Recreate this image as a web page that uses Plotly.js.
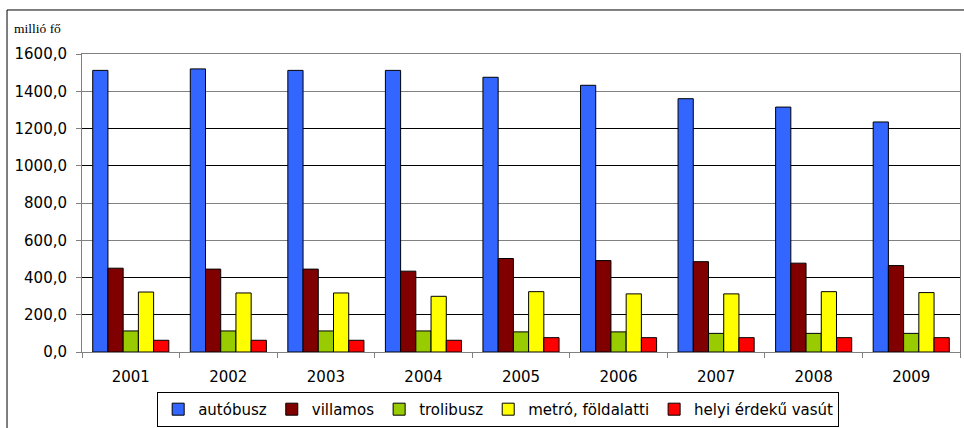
<!DOCTYPE html>
<html>
<head>
<meta charset="utf-8">
<script src="https://cdn.plot.ly/plotly-3.0.1.min.js"></script>
<style>
  html, body { margin: 0; padding: 0; background: #fff; }
  #chart { width: 964px; height: 428px; }
</style>
</head>
<body>
<div id="chart"></div>
<script>
// Helyi közforgalmú közlekedés utasai, millió fő
const years = ['2001', '2002', '2003', '2004', '2005', '2006', '2007', '2008', '2009'];

const autobusz  = [1512, 1520, 1512, 1512, 1475, 1432, 1360, 1315, 1235];
const villamos  = [450, 445, 445, 434, 502, 491, 485, 477, 464];
const trolibusz = [113, 113, 113, 113, 108, 108, 100, 100, 100];
const metro     = [322, 317, 317, 299, 324, 312, 312, 324, 319];
const hev       = [63, 63, 63, 63, 77, 77, 77, 77, 77];

const seriesNames  = ['autóbusz', 'villamos', 'trolibusz', 'metró, földalatti', 'helyi érdekű vasút'];
const seriesValues = [autobusz, villamos, trolibusz, metro, hev];
const seriesColors = ['#3366FF', '#800000', '#99CC00', '#FFFF00', '#FF0000'];

const yTicks      = [0, 200, 400, 600, 800, 1000, 1200, 1400, 1600];
const yTicksLight = [600, 800, 1400, 1600];

const FONT = 'DejaVu Sans, Verdana, sans-serif';

const traces = seriesNames.map((name, i) => ({
  type: 'bar',
  name: name,
  x: years,
  y: seriesValues[i],
  marker: { color: seriesColors[i], line: { color: '#000', width: 1 } },
  hoverinfo: 'x+y+name'
}));

// invisible companion trace that carries the lighter grid lines
traces.push({
  type: 'scatter', x: [years[0]], y: [0], yaxis: 'y2',
  mode: 'markers', marker: { opacity: 0 }, showlegend: false, hoverinfo: 'skip'
});

const layout = {
  width: 964,
  height: 428,
  margin: { l: 82, r: 4, t: 54, b: 76, autoexpand: false },
  paper_bgcolor: '#fff',
  plot_bgcolor: '#fff',
  font: { family: FONT, size: 15, color: '#000' },
  separators: ', ',
  barmode: 'group',
  bargap: 0.22,
  bargroupgap: 0,
  showlegend: true,
  xaxis: {
    type: 'category',
    showgrid: false,
    showline: true,
    linecolor: '#808080',
    linewidth: 1,
    mirror: true,
    ticks: 'outside',
    tickson: 'boundaries',
    ticklen: 5,
    tickcolor: '#808080',
    ticklabelstandoff: 11,
    tickfont: { family: FONT, size: 15, color: '#000' },
    automargin: false,
    fixedrange: true
  },
  yaxis: {
    range: [0, 1600],
    tickvals: yTicks,
    tickformat: '.1f',
    showgrid: true,
    gridcolor: '#000',
    gridwidth: 1,
    showline: true,
    linecolor: '#808080',
    linewidth: 1,
    mirror: true,
    zeroline: false,
    ticks: 'outside',
    ticklen: 5,
    tickcolor: '#808080',
    ticklabelstandoff: 6,
    tickfont: { family: FONT, size: 15, color: '#000' },
    automargin: false,
    fixedrange: true
  },
  yaxis2: {
    overlaying: 'y',
    range: [0, 1600],
    tickvals: yTicksLight,
    showticklabels: false,
    ticks: '',
    showgrid: true,
    gridcolor: '#808080',
    gridwidth: 1,
    showline: false,
    zeroline: false,
    automargin: false,
    fixedrange: true
  },
  legend: {
    orientation: 'h',
    x: 0.474,
    xanchor: 'center',
    y: -0.134,
    yanchor: 'top',
    bgcolor: '#fff',
    bordercolor: '#000',
    borderwidth: 1,
    font: { family: FONT, size: 15, color: '#000' },
    traceorder: 'normal'
  },
  annotations: [{
    text: 'millió fő',
    xref: 'paper', yref: 'paper',
    x: -0.08, y: 1.087,
    xanchor: 'left', yanchor: 'middle',
    showarrow: false,
    font: { family: 'Liberation Serif, Times New Roman, serif', size: 13.5, color: '#000' }
  }],
  shapes: [{
    type: 'rect',
    xref: 'paper', yref: 'paper',
    x0: -0.0854, x1: 1.02, y0: -0.3, y1: 1.1477,
    line: { color: '#000', width: 1 },
    fillcolor: 'rgba(0,0,0,0)',
    layer: 'below'
  }]
};

Plotly.newPlot('chart', traces, layout, { displayModeBar: false, staticPlot: true });
</script>
</body>
</html>
